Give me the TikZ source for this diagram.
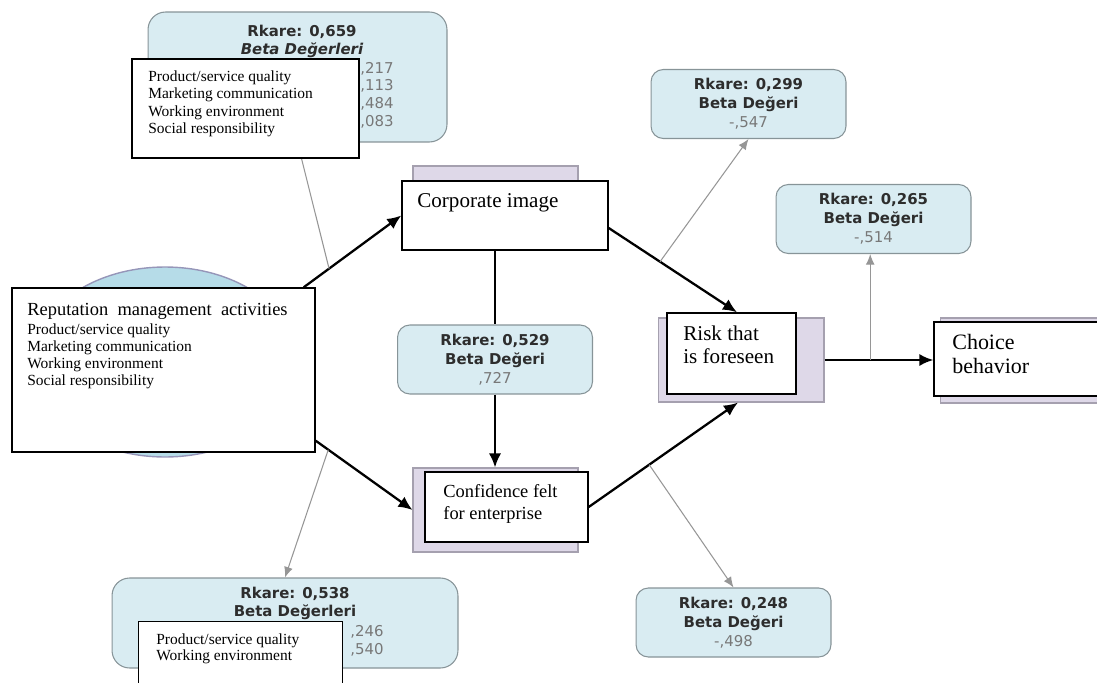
\documentclass[tikz,border=0pt]{standalone}
\usepackage{fontspec}
\setmainfont{Liberation Serif}
\newfontfamily\plsfont{DejaVu Sans}
\usetikzlibrary{shapes.geometric,arrows.meta}

\definecolor{boxblue}{RGB}{217,236,242}
\definecolor{boxedge}{RGB}{135,148,152}
\definecolor{lvblue}{RGB}{182,220,232}
\definecolor{lvedge}{RGB}{150,150,185}
\definecolor{shadelil}{RGB}{222,216,232}
\definecolor{shadeedge}{RGB}{165,160,175}
\definecolor{pathgrey}{RGB}{150,150,150}
\definecolor{valgrey}{RGB}{120,120,120}
\definecolor{txtdark}{RGB}{45,45,45}

\tikzset{
  rbox/.style={draw=boxedge, fill=boxblue, rounded corners=7pt, line width=0.6pt,
    font=\plsfont\bfseries\fontsize{8.5}{10.8}\selectfont, text=txtdark, align=center, inner sep=0pt},
  wbox/.style={draw=black, fill=white, line width=0.8pt, inner sep=0pt},
  shbox/.style={draw=shadeedge, fill=shadelil, line width=0.6pt, inner sep=0pt},
  rtext/.style={font=\plsfont\bfseries\fontsize{8.5}{10.2}\selectfont, text=txtdark, align=center, inner sep=0pt},
  vtext/.style={font=\plsfont\fontsize{8.5}{10.2}\selectfont, text=valgrey, align=center, inner sep=0pt},
  itext/.style={font=\fontsize{8.8}{10}\selectfont, align=left, inner sep=0pt, anchor=north west},
  ltext/.style={font=\fontsize{12}{13}\selectfont, align=left, inner sep=0pt, anchor=north west},
  blk/.style={line width=1.3pt, -{Latex[length=8pt,width=7pt]}},
  gry/.style={draw=pathgrey, line width=0.6pt, -{Latex[length=6pt,width=5pt]}},
}

\begin{document}
\begin{tikzpicture}[x=0.02cm, y=-0.02cm]
\useasboundingbox (0,0) rectangle (1097,682);

% latent variable behind the reputation box
\node[ellipse, draw=lvedge, fill=lvblue, line width=0.8pt, minimum width=5.3cm, minimum height=3.8cm] (lvR) at (165,362) {};

% top stat box
\node[rbox, rounded corners=10pt, minimum width=5.98cm, minimum height=2.6cm] (bT) at (297.5,77) {};
\node[rtext] (tT) at (302,41) {Rkare: 0,659\\\itshape Beta Değerleri};
\node[vtext, font=\plsfont\fontsize{8.5}{10.1}\selectfont] (vT) at (377,95) {,217\\,113\\,484\\,083};

% reputation management box
\node[wbox, minimum width=6.06cm, minimum height=3.28cm] (wR) at (163.5,370) {};
\node[itext, font=\fontsize{10.5}{12}\selectfont] (tR) at (27,303) {Reputation\ \ management\ \ activities};
\node[itext, font=\fontsize{8.8}{9.8}\selectfont] (lR) at (27,323) {Product/service quality\\Marketing communication\\Working environment\\Social responsibility};

% corporate image
\node[shbox, minimum width=3.3cm, minimum height=1.48cm] (sC) at (495.5,203) {};
\node[wbox, minimum width=4.12cm, minimum height=1.38cm] (wC) at (505,215.5) {};
\node[ltext] (tC) at (417,193.5) {Corporate image};

% confidence
\node[shbox, minimum width=3.3cm, minimum height=1.68cm] (sF) at (495.5,510) {};
\node[wbox, minimum width=3.26cm, minimum height=1.4cm] (wF) at (506.5,507) {};
\node[ltext, font=\fontsize{10.5}{12.5}\selectfont] (tF) at (443,484) {Confidence felt\\for enterprise};

% risk
\node[shbox, minimum width=3.32cm, minimum height=1.68cm] (sK) at (741,360) {};
\node[wbox, minimum width=2.58cm, minimum height=1.62cm] (wK) at (731.5,353.5) {};
\node[ltext, font=\fontsize{12}{13}\selectfont] (tK) at (683,325.5) {Risk that\\is foreseen};

% choice (runs past the right edge)
\node[shbox, minimum width=3.24cm, minimum height=1.7cm] (sH) at (1021,360.5) {};
\node[wbox, minimum width=3.32cm, minimum height=1.48cm] (wH) at (1017,359) {};
\node[ltext, font=\fontsize{12.5}{14}\selectfont] (tH) at (952,333.5) {Choice\\behavior};

% small stat boxes
\foreach \nm/\x/\y/\rk/\v in {b529/495/359.5/{0,529}/{,727}, b299/748.5/104/{0,299}/{-,547},
    b265/873.5/219/{0,265}/{-,514}, b248/733.5/622.5/{0,248}/{-,498}}
  \node[rbox, minimum width=3.9cm, minimum height=1.38cm] (\nm) at (\x,\y)
    {Rkare: \rk\\Beta Değeri\\{\mdseries\color{valgrey}\v}};

% bottom stat box
\node[rbox, rounded corners=10pt, minimum width=6.92cm, minimum height=1.8cm] (bB) at (285,623) {};
\node[rtext] (tB) at (295,603) {Rkare: 0,538\\Beta Değerleri};
\node[vtext, font=\plsfont\fontsize{8.5}{10.1}\selectfont] (vB) at (367,641) {,246\\,540};

% structural paths
\draw[blk] ([xshift=-0.24cm]wR.north east) -- coordinate[pos=0.26] (jA) (wC.west);
\draw[blk] ([yshift=0.24cm]wR.south east) -- coordinate[pos=0.13] (jB) (sF.west);
\draw[line width=1.3pt] (wC.south -| b529.north) -- (b529.north);
\draw[blk] (b529.south) -- (b529.south |- sF.north);
\draw[blk] ([yshift=-0.25cm]wC.east) -- coordinate[pos=0.4] (jD) ([xshift=0.11cm]wK.north);
\draw[blk] (wF.east) -- coordinate[pos=0.405] (jE) ([xshift=-0.06cm]sK.south);
\draw[blk] (sK.east) -- coordinate[pos=0.42] (jF) (sK.east -| wH.west);

% grey paths to the stat boxes
\draw[gry] (jA) -- (bT.south);
\draw[gry] (jB) -- (bB.north);
\draw[gry] (jD) -- (b299.south);
\draw[gry] (jE) -- (b248.north);
\draw[gry] (jF) -- (jF |- b265.south);

% indicator boxes laid over the stat boxes
\node[wbox] (wT) at (245.5,108.5) [minimum width=4.54cm, minimum height=1.98cm] {};
\node[itext] (lT) at (148,70) {Product/service quality\\Marketing communication\\Working environment\\Social responsibility};
\node[fill=white, inner sep=0pt, minimum width=4.06cm, minimum height=1.36cm] (wB) at (240.5,656) {};
\draw[line width=0.8pt] (wB.south west) -- (wB.north west) -- (wB.north east) -- (wB.south east);
\node[itext, font=\fontsize{8.8}{9.6}\selectfont] (lB) at (156,633) {Product/service quality\\Working environment};
\end{tikzpicture}
\end{document}
